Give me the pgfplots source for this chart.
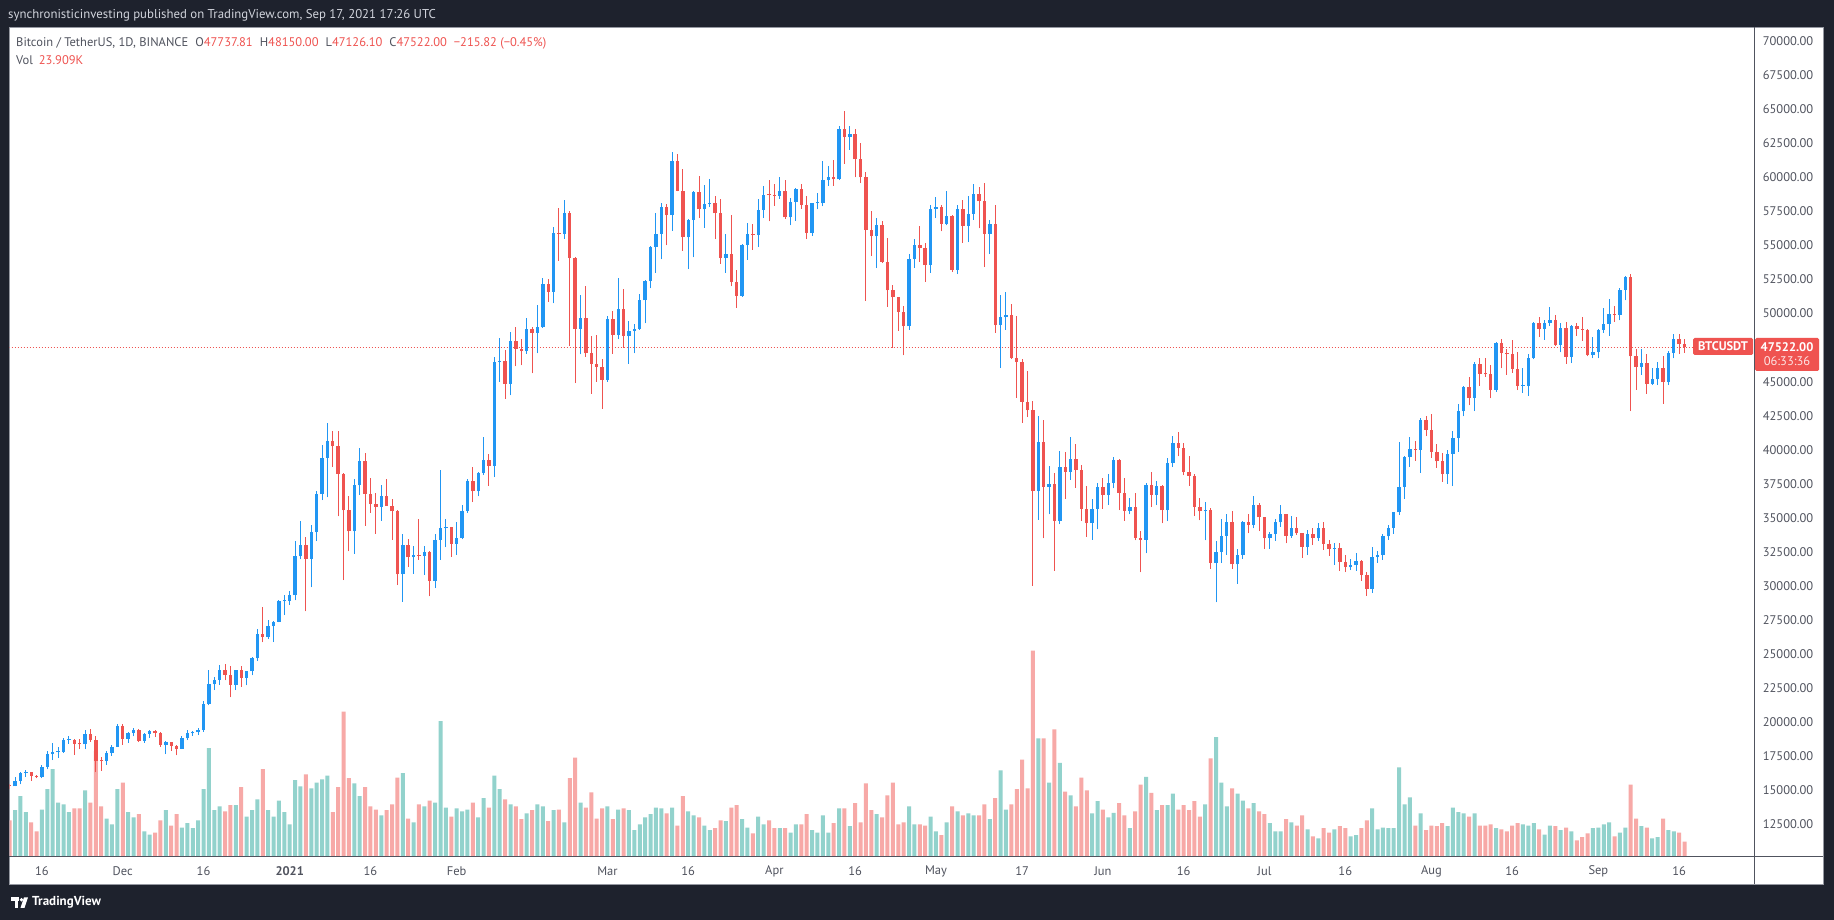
\documentclass[border=0pt]{standalone}
\usepackage{fontspec}
\setmainfont{PT Sans}
\usepackage{pgfplots}
\pgfplotsset{compat=1.18}
\usepackage{pgfplotstable}
\definecolor{bg}{HTML}{1E222D}
\definecolor{upc}{HTML}{2196F3}
\definecolor{dnc}{HTML}{EF5350}
\definecolor{vup}{HTML}{92D2CC}
\definecolor{vdn}{HTML}{F7A9A7}
\definecolor{axtxt}{HTML}{50535E}
\definecolor{lg}{HTML}{50535E}
\definecolor{sepc}{HTML}{50535E}
\definecolor{bordc}{HTML}{9598A1}
\definecolor{toptxt}{HTML}{D1D4DC}

\pgfplotstableread{
d o h l c v
-51 15290 15960 15280 15700 73
-50 15700 16340 15440 16290 95
-49 16290 16480 15970 16320 70
-46 15960 16880 15870 16720 74
-45 16720 17860 16540 17660 106
-44 17660 18480 17220 17800 137
-43 17800 18180 17350 17820 85
-42 17820 18820 17760 18680 82
-41 18680 18970 18400 18710 70
-38 18370 19420 18020 19150 104
-34 17140 17850 16880 17720 60
-33 17720 18350 17520 18180 51
-32 18180 19860 18180 19700 106
-30 18770 19310 18480 19230 70
-29 19230 19600 18960 19440 62
-27 18650 19180 18490 19150 40
-26 19150 19420 18860 19360 35
-23 18320 18640 17650 18550 73
-20 18040 18950 18020 18800 46
-19 18800 19410 18680 19170 53
-18 19170 19350 19000 19270 45
-17 19270 19570 19050 19430 57
-16 19430 21560 19300 21340 106
-15 21340 23800 21230 22800 170
-14 22800 23280 22350 23130 73
-13 23130 24170 22750 23860 79
-10 22740 23840 22350 23820 81
-8 23250 23780 22700 23720 63
-7 23720 24790 23430 24690 73
-6 24690 26870 24500 26490 90
-4 26280 27500 26100 27030 73
-3 27030 27410 25880 27370 63
-2 27370 28990 27320 28880 88
-1 28880 29300 27850 28920 70
0 28920 29600 28620 29330 51
1 29330 33300 28950 32180 120
2 32180 34780 31960 33000 110
4 31990 34440 29900 33950 107
5 33950 36940 33300 36770 116
6 36770 40360 36300 39410 121
7 39410 41950 36500 40670 127
12 34010 37850 32380 37390 115
13 37390 40100 36700 39150 95
17 35830 37400 34800 36630 65
21 30850 33830 28850 33000 131
23 32100 32940 30900 32270 54
25 32200 32920 30840 32510 79
27 30400 33780 29840 33400 85
28 33400 38530 31910 34260 212
29 34260 34930 32850 34300 77
31 33110 34720 32300 33520 76
32 33520 35980 33420 35510 71
33 35510 37850 35360 37670 74
35 36950 38400 36570 38290 62
36 38290 40960 38140 39260 92
38 38830 46800 37990 46450 127
39 46450 48200 45000 46480 106
41 44840 48630 44000 47970 82
44 47230 49700 47050 48890 68
46 48580 50650 47070 49000 82
47 49000 52620 48950 52140 79
49 51600 56370 50750 55900 73
51 55840 58350 55480 57410 54
54 48890 51370 47000 49680 85
59 45140 49790 45000 49590 79
61 48440 52640 48100 50350 74
63 48370 49450 46300 48750 73
64 48750 49200 47070 48880 42
65 48880 51450 48800 50970 51
66 50970 52450 49270 52380 62
67 52380 54950 51850 54880 67
68 54880 57390 53000 55860 77
69 55860 58150 53980 57800 76
71 57220 61840 56080 61190 77
74 55600 56950 53270 56900 71
75 56900 58990 54120 58910 65
77 57650 59470 56300 58030 49
78 58030 59880 57820 58100 42
81 54080 55830 53000 54340 56
84 51290 55100 51230 55030 59
85 55030 56640 53960 55820 46
87 55780 58400 54900 57630 63
88 57630 59370 57000 58730 51
91 58650 60040 58420 58970 45
93 57060 58490 56480 58200 38
94 58200 59250 56800 59130 51
97 55950 58150 55700 58080 42
98 58080 58870 57650 58090 38
99 58090 61220 57870 59770 65
100 59770 60800 59370 60000 38
102 59860 63770 59800 63580 76
104 62960 63800 62020 63160 48
109 55660 57000 53330 56470 67
115 49060 54360 48800 54030 79
116 54030 55460 53330 55030 51
119 53560 58000 53000 57700 63
120 57700 58550 57000 57800 40
122 56580 58970 56480 57170 54
124 53200 57940 52900 57690 71
126 56430 58650 55250 57340 68
127 57340 59500 56900 58800 65
130 55850 56900 54370 56610 59
132 49150 51370 46000 49720 135
133 49720 51560 48800 49880 74
139 36960 42450 34850 40600 185
141 37300 38830 35260 37500 116
143 34770 39920 34540 38700 147
145 38400 40900 37780 39290 96
149 34610 36400 33380 35680 68
150 35680 37530 34150 37250 87
152 36690 38230 35950 37570 62
153 37570 39480 37170 39250 69
156 35520 36480 35260 35800 45
159 33400 37530 32400 37390 125
161 36680 37690 35930 37330 73
163 35550 39380 34760 39020 81
164 39020 41000 38730 40520 99
170 35480 36140 33350 35600 82
172 31680 33300 28800 32500 187
173 32500 34880 31700 33680 116
174 33680 35300 32280 34660 79
176 31590 32730 30150 32280 99
177 32280 34750 32000 34700 88
179 34490 36600 34230 35910 84
182 33510 33940 32700 33800 53
183 33800 34950 33320 34670 40
184 34670 35950 34360 35290 40
186 33690 35120 33530 34220 54
189 32880 34100 32260 33810 43
191 33510 34600 33330 34260 29
194 32730 33130 31570 32820 43
197 31390 31950 31170 31530 32
198 31530 32440 31120 31800 34
201 29790 32860 29480 32140 76
202 32140 32580 31710 32290 43
203 32290 33800 31940 33640 46
204 33640 34500 33400 34260 45
205 34260 35450 33850 35400 45
206 35400 40550 35200 37270 140
207 37270 39540 36400 39460 82
208 39460 40900 38770 40020 93
210 39990 42320 38320 42210 68
215 38210 39970 37510 39720 48
216 39720 41350 37330 40870 77
217 40870 43390 39850 42820 70
218 42820 44700 42450 44610 68
220 43820 46450 42840 46290 68
224 44400 47890 44250 47820 45
229 44690 46000 44200 44710 51
230 44710 47050 43950 46760 49
231 46760 49380 46640 49320 53
233 48870 49500 48080 49290 35
234 49290 50500 49070 49510 49
236 47700 49290 47150 48950 42
238 46840 49170 46360 49070 40
242 46990 48250 46700 47150 45
243 47150 48890 46700 48810 46
244 48810 50400 48600 49250 51
245 49250 51050 48370 49940 54
247 49920 51900 49500 51760 38
248 51760 52780 50970 52660 46
251 46070 47370 45510 46400 48
253 44850 45990 44740 45160 29
254 45160 46460 44750 46030 31
256 44960 47250 44750 47110 42
257 47110 48480 46700 48140 40
}\upT

\pgfplotstableread{
d o h l c v
-52 15330 15480 15100 15290 57
-48 16320 16330 15710 16070 54
-47 16070 16140 15870 15960 40
-40 18710 18750 17610 18430 76
-39 18430 18770 18000 18370 76
-37 19150 19480 18570 18720 85
-36 18720 19000 16330 17150 165
-35 17150 17460 16450 17140 79
-31 19700 19890 18330 18770 116
-28 19440 19520 18540 18650 67
-25 19360 19420 18900 19170 38
-24 19170 19300 18200 18320 57
-22 18550 18560 17910 18250 49
-21 18250 18290 17570 18040 67
-12 23860 24300 23060 23480 71
-11 23480 24100 21820 22740 81
-9 23820 24100 22600 23250 109
-5 26490 28420 25850 26280 137
3 33000 33600 28130 31990 129
8 40670 41380 38720 40240 70
9 40240 41350 35110 38240 109
10 38240 38260 30420 35540 227
11 35540 36630 32530 34010 123
14 39150 39750 34410 36770 109
15 36770 37950 35360 36010 79
16 36010 36850 33850 35830 74
18 36630 37850 35900 35890 73
19 35890 36420 33400 35470 82
20 35470 35600 30070 30850 124
22 33000 33460 31390 32100 60
24 32270 34880 31910 32200 82
26 32510 32560 29240 30400 88
30 34300 34340 32160 33110 63
34 37670 38710 36160 36950 85
37 39260 39700 37350 38830 77
40 46480 47310 43730 44840 90
42 47970 48990 46130 47410 79
43 47410 48150 46200 47230 59
45 48890 49010 45600 48580 73
48 52140 52550 50880 51600 56
50 55900 57770 53860 55840 74
52 57410 57530 47620 54100 123
53 54100 54180 44890 48890 155
55 49680 52040 46820 47070 77
56 47070 48370 44100 46280 101
57 46280 48390 45000 46100 60
58 46100 46640 43000 45140 76
60 49590 50200 47050 48440 59
62 50350 51770 47500 48370 76
70 57800 58060 55000 57220 68
72 61190 61680 58970 59000 49
73 59000 60630 54600 55600 95
76 58910 60100 57030 57650 62
79 58100 58600 55450 57350 45
80 57350 58430 53650 54080 57
82 54340 57200 52000 52300 77
83 52300 53230 50430 51290 81
86 55820 56560 54690 55780 37
89 58730 59800 56770 58700 57
90 58700 59490 57930 58650 45
92 58970 59790 56960 57060 45
95 59130 59500 57700 57990 51
96 57990 58650 55470 55950 67
101 60000 61300 59370 59860 53
103 63580 64850 61000 62960 76
105 63160 63520 60000 61330 84
106 61330 62500 59580 60000 54
107 60000 60400 50930 56150 115
108 56150 57520 54220 55660 73
110 56470 56760 53700 53800 62
111 53800 55520 50500 51700 96
112 51700 52130 47500 51190 116
113 51190 51200 48750 50100 51
114 50100 50560 46930 49060 54
117 55030 56430 53820 54820 51
118 54820 55200 52330 53560 49
121 57800 57950 56040 56580 34
123 57170 57200 53050 53200 79
125 57690 58360 55200 56430 65
128 58800 59300 56250 58230 65
129 58230 59600 53400 55850 82
131 56610 58000 48600 49150 92
134 49880 50700 46650 46760 82
135 46760 49800 43830 46430 106
136 46430 46650 42000 43540 152
137 43540 45800 42400 42900 107
138 42900 43550 30000 36960 322
140 40600 42200 33490 37300 185
142 37500 38270 31110 34770 199
144 38700 39800 36420 38400 102
146 39290 40410 37200 38530 79
147 38530 38860 34780 35660 124
148 35660 37340 33630 34610 104
151 37250 37900 35660 36690 74
154 39250 39290 35570 36840 84
155 36840 37930 34800 35520 65
157 35800 36790 33340 33550 71
158 33550 34070 31000 33400 113
160 37390 38400 35780 36680 100
162 37330 37440 34600 35550 81
165 40520 41330 39510 40140 74
166 40140 40530 38120 38350 81
167 38350 39560 37370 38090 73
168 38090 38200 35130 35820 87
169 35820 36460 34820 35480 63
171 35600 35750 31250 31680 154
175 34660 35500 31270 31590 107
178 34700 35300 33860 34490 76
180 35910 36100 34020 35040 71
181 35040 35040 32710 33510 67
185 35290 35290 33120 33690 59
187 34220 35060 33770 33860 49
188 33860 33920 32080 32880 65
190 33810 34260 33000 33510 32
192 34260 34680 32660 33090 45
193 33090 33340 32200 32730 38
195 32820 33190 31130 31780 48
196 31780 32250 31020 31390 45
199 31800 31900 30400 30830 45
200 30830 31060 29280 29790 57
209 40020 40630 39200 39990 49
211 42210 42450 41000 41460 42
212 41460 42600 39420 39850 49
213 39850 40450 38690 39150 48
214 39150 39780 37640 38210 53
219 44610 45310 43260 43820 63
221 46290 46700 44670 45590 49
222 45590 46740 45350 45540 49
223 45540 46220 43770 44400 51
225 47820 48140 45970 47100 43
226 47100 47400 45520 47020 40
227 47020 48050 45640 45930 49
228 45930 47160 44380 44690 53
232 49320 49760 48290 48870 43
235 49510 49880 47600 47700 48
237 48950 49360 46300 46840 46
239 49070 49310 48370 48900 26
240 48900 49760 48000 48810 31
241 48810 48900 46860 46990 37
246 49940 50560 49400 49920 32
249 52660 52920 42840 46860 113
250 46860 47380 44410 46070 60
252 46400 47040 44130 44850 46
255 46030 46880 43370 44960 60
258 48140 48500 47020 47740 38
259 47737.81 48150 47126.1 47522 23.909
}\dnT

\pgfplotsset{
  candle/.style={only marks, mark=*, mark size=0pt,
    mark options={draw=none, fill=none, draw opacity=0, fill opacity=0},
    error bars/.cd, y dir=plus, y explicit, error mark=none,
    error bar style={line width=#1}},
}

\begin{document}
\begin{tikzpicture}[x=1pt,y=1pt]
\fill[bg] (0,0) rectangle (1834,920);
\useasboundingbox (0,0) rectangle (1834,920);
\fill[white] (9,36) rectangle (1823,893);
\draw[bordc, line width=0.8pt] (9,36) rectangle (1823,893);

% volume overlay
\begin{axis}[at={(9.5pt,63pt)}, anchor=south west, width=1744.5pt, height=830pt,
  scale only axis, xmin=-52.03, xmax=271.9, ymin=0, ymax=1295, hide axis]
\addplot[ybar, bar width=4pt, bar shift=0pt, fill=vup, draw=none] table[x=d,y=v]{\upT};
\addplot[ybar, bar width=4pt, bar shift=0pt, fill=vdn, draw=none] table[x=d,y=v]{\dnT};
\end{axis}

% price
\begin{axis}[at={(9.5pt,63pt)}, anchor=south west, width=1744.5pt, height=830pt,
  scale only axis, xmin=-52.03, xmax=271.9, ymin=10100, ymax=71040,
  axis line style={draw=none}, major tick length=0pt,
  scaled y ticks=false,
  ytick={12500,15000,...,70000},
  yticklabel pos=right,
  yticklabel style={anchor=center, xshift=34pt},
  /pgf/number format/fixed, /pgf/number format/fixed zerofill,
  /pgf/number format/precision=2, /pgf/number format/1000 sep={},
  /pgf/number format/assume math mode=true,
  xtick={-46,-31,-16,0,15,31,59,74,90,105,120,136,151,166,181,196,212,227,243,258},
  xticklabels={16,Dec,16,\textbf{2021},16,Feb,Mar,16,Apr,16,May,17,Jun,16,Jul,16,Aug,16,Sep,16},
  xticklabel style={anchor=center, yshift=-14pt},
  tick label style={font=\fontsize{12.5}{14}\selectfont, text=axtxt},
]
\addplot[dnc, line width=1pt, dash pattern=on 1pt off 2pt] coordinates {(-60,47522) (280,47522)};
% wicks
\addplot[candle=1pt, error bar style={upc}] table[x=d, y=l, y error expr=\thisrow{h}-\thisrow{l}]{\upT};
\addplot[candle=1pt, error bar style={dnc}] table[x=d, y=l, y error expr=\thisrow{h}-\thisrow{l}]{\dnT};
% bodies
\addplot[candle=3.4pt, error bar style={upc}] table[x=d, y=o, y error expr={max(\thisrow{c}-\thisrow{o},75)}]{\upT};
\addplot[candle=3.4pt, error bar style={dnc}] table[x=d, y=c, y error expr={max(\thisrow{o}-\thisrow{c},75)}]{\dnT};
\end{axis}

% separators
\draw[sepc, line width=1pt] (1754,36) -- (1754,893);
\draw[sepc, line width=1pt] (9,63) -- (1823,63);

% price labels
\fill[dnc, rounded corners=1.5pt] (1693,565) rectangle (1753,582);
\node[text=white, font=\fontsize{12.5}{14}\selectfont\bfseries] at (1723,573.5) {BTCUSDT};
\fill[dnc, rounded corners=1.5pt] (1755,549) rectangle (1819,582);
\node[text=white, font=\fontsize{12.5}{14}\selectfont\bfseries] at (1787,573) {47522.00};
\node[text=white, opacity=0.85, font=\fontsize{12.5}{14}\selectfont] at (1787,559) {06:33:36};

% legend
\node[anchor=west, inner sep=0pt, font=\fontsize{12.5}{14}\selectfont, text=lg] at (16,877)
 {Bitcoin / TetherUS, 1D, BINANCE\hspace{7pt}O\textcolor{dnc}{47737.81}\hspace{7pt}H\textcolor{dnc}{48150.00}\hspace{7pt}L\textcolor{dnc}{47126.10}\hspace{7pt}C\textcolor{dnc}{47522.00}\hspace{7pt}\textcolor{dnc}{−215.82 (−0.45\%)}};
\node[anchor=west, inner sep=0pt, font=\fontsize{12.5}{14}\selectfont, text=lg] at (16,860)
 {Vol\hspace{6pt}\textcolor{dnc}{23.909K}};

% top bar
\node[anchor=west, inner sep=0pt, font=\fontsize{12.8}{15}\selectfont, text=toptxt] at (8,905)
 {synchronisticinvesting published on TradingView.com, Sep 17, 2021 17:26 UTC};

% bottom logo
\fill[white] (11,19) rectangle (19,22.5);
\fill[white] (14.5,12) rectangle (18,22.5);
\fill[white] (21.5,20.2) circle (1.8);
\fill[white] (24,22.5) -- (28,22.5) -- (24.5,12) -- (20.5,12) -- cycle;
\node[anchor=west, inner sep=0pt, font=\fontsize{13}{15}\selectfont\bfseries, text=white] at (32,17.5) {TradingView};
\end{tikzpicture}
\end{document}
